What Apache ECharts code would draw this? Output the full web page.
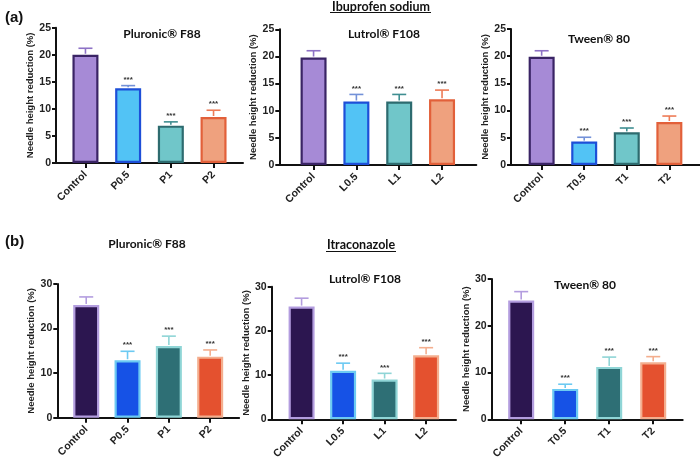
<!DOCTYPE html>
<html><head><meta charset="utf-8">
<script src="https://cdn.jsdelivr.net/npm/echarts@6/dist/echarts.min.js"></script>
<style>html,body{margin:0;padding:0;background:#fff}#c{width:700px;height:463px}</style>
</head><body><div id="c"></div><script>
// ---- data ----
const catsPluronic = ['Control', 'P0.5', 'P1', 'P2'];
const catsLutrol = ['Control', 'L0.5', 'L1', 'L2'];
const catsTween = ['Control', 'T0.5', 'T1', 'T2'];

const ibuPluronicMean = [20.0, 13.8, 6.9, 8.5];
const ibuPluronicSD = [1.2, 0.5, 0.7, 1.25];
const ibuLutrolMean = [19.8, 11.7, 11.7, 12.1];
const ibuLutrolSD = [1.25, 1.3, 1.3, 1.7];
const ibuTweenMean = [19.9, 4.3, 6.0, 7.9];
const ibuTweenSD = [1.1, 0.8, 0.8, 1.1];

const itraPluronicMean = [25.3, 12.9, 16.1, 13.7];
const itraPluronicSD = [1.8, 2.0, 2.2, 1.5];
const itraLutrolMean = [25.5, 11.0, 9.0, 14.5];
const itraLutrolSD = [1.9, 1.7, 1.4, 1.7];
const itraTweenMean = [25.4, 6.5, 11.2, 12.2];
const itraTweenSD = [1.9, 1.0, 2.1, 1.2];

const significance = ['', '***', '***', '***'];
const yTicksA = [0, 25, 5];
const yTicksB = [0, 30, 10];
const yName = 'Needle height reduction (%)';

// ---- styles ----
const styleA = {
  fill: ['#a68ad6', '#52c3f5', '#70c6c9', '#efa17e'],
  border: ['#3a2465', '#1d4fd8', '#2d6b6f', '#e2603a'],
  err: ['#8e72c6', '#7391d8', '#3f8e91', '#ee7b56']
};
const styleB = {
  fill: ['#2c1650', '#1652e6', '#2e6f75', '#e4512f'],
  border: ['#b39ddf', '#6ccaf2', '#8fd5d6', '#f4ae8e'],
  err: ['#b39ddf', '#6ccaf2', '#8fd5d6', '#f4ae8e']
};

const panels = [
  {cats: catsPluronic, mean: ibuPluronicMean, sd: ibuPluronicSD, y: yTicksA, st: styleA, left: 56, width: 187, top: 27.7, height: 135.3, xmin: -0.69, xmax: 3.69},
  {cats: catsLutrol, mean: ibuLutrolMean, sd: ibuLutrolSD, y: yTicksA, st: styleA, left: 279.3, width: 197, top: 29.3, height: 135.7, xmin: -0.80, xmax: 3.80},
  {cats: catsTween, mean: ibuTweenMean, sd: ibuTweenSD, y: yTicksA, st: styleA, left: 511, width: 190.6, top: 29, height: 136, xmin: -0.72, xmax: 3.72},
  {cats: catsPluronic, mean: itraPluronicMean, sd: itraPluronicSD, y: yTicksB, st: styleB, left: 57.3, width: 181.8, top: 284, height: 133.7, xmin: -0.70, xmax: 3.70},
  {cats: catsLutrol, mean: itraLutrolMean, sd: itraLutrolSD, y: yTicksB, st: styleB, left: 271.7, width: 184.3, top: 286.7, height: 132.6, xmin: -0.72, xmax: 3.72},
  {cats: catsTween, mean: itraTweenMean, sd: itraTweenSD, y: yTicksB, st: styleB, left: 491.7, width: 191, top: 279, height: 140.3, xmin: -0.67, xmax: 3.67}
];

const AX = 'Liberation Sans, Arial, sans-serif';
const TT = 'Lato, Open Sans, sans-serif';

const grid = [], xAxis = [], yAxis = [], series = [];
panels.forEach((p, k) => {
  grid.push({left: p.left, top: p.top, width: p.width, height: p.height, containLabel: false});
  const idx = p.cats.map((c, i) => i);
  xAxis.push({
    type: 'value', gridIndex: k, min: p.xmin, max: p.xmax,
    axisLine: {show: true, onZero: false, lineStyle: {color: '#111', width: 2}},
    axisTick: {show: true, length: 5, lineStyle: {color: '#111', width: 2}, customValues: idx},
    axisLabel: {customValues: idx, rotate: 45, margin: 10, color: '#222', fontFamily: AX, fontWeight: 'bold', fontSize: 10.5,
      formatter: v => p.cats[Math.round(v)]},
    splitLine: {show: false}
  });
  yAxis.push({
    type: 'value', gridIndex: k, min: p.y[0], max: p.y[1], interval: p.y[2],
    name: yName, nameLocation: 'middle', nameRotate: 90, nameGap: 19,
    nameTextStyle: {fontFamily: AX, fontWeight: 'bold', fontSize: 9.5, color: '#222'},
    axisLine: {show: true, onZero: false, lineStyle: {color: '#111', width: 2}},
    axisTick: {show: true, length: 4, lineStyle: {color: '#111', width: 2}},
    axisLabel: {color: '#222', fontFamily: AX, fontWeight: 'bold', fontSize: 10.5, margin: 5},
    splitLine: {show: false}
  });
  series.push({
    type: 'bar', xAxisIndex: k, yAxisIndex: k, barWidth: 26,
    data: p.mean.map((m, i) => ({value: [i, m], itemStyle: {color: p.st.fill[i], borderColor: p.st.border[i], borderWidth: 2.2}})),
    z: 2
  });
  series.push({
    type: 'custom', xAxisIndex: k, yAxisIndex: k, z: 3,
    encode: {x: 0, y: [1, 2]},
    data: p.mean.map((m, i) => [i, m, m + p.sd[i]]),
    renderItem: (params, api) => {
      const i = params.dataIndex;
      const a = api.coord([api.value(0), api.value(1)]);
      const b = api.coord([api.value(0), api.value(2)]);
      const col = p.st.err[i];
      const children = [
        {type: 'line', shape: {x1: a[0], y1: a[1] - 1, x2: b[0], y2: b[1]}, style: {stroke: col, lineWidth: 1.6}},
        {type: 'line', shape: {x1: b[0] - 7, y1: b[1], x2: b[0] + 7, y2: b[1]}, style: {stroke: col, lineWidth: 1.6}}
      ];
      if (significance[i]) {
        children.push({type: 'text', x: b[0], y: b[1] - 2, style: {text: significance[i], fill: '#333', font: 'bold 8px ' + AX, align: 'center', verticalAlign: 'bottom'}});
      }
      return {type: 'group', children};
    }
  });
});

const title = [
  {text: '(a)', left: 5, top: 10, textStyle: {fontFamily: AX, fontWeight: 'bold', fontSize: 15, color: '#111'}},
  {text: '(b)', left: 5, top: 234, textStyle: {fontFamily: AX, fontWeight: 'bold', fontSize: 15, color: '#111'}},
  {text: 'Ibuprofen sodium', left: 381, top: 0, textAlign: 'center', textStyle: {fontFamily: TT, fontWeight: 'bold', fontSize: 12.5, color: '#111'}},
  {text: 'Itraconazole', left: 361, top: 238, textAlign: 'center', textStyle: {fontFamily: TT, fontWeight: 'bold', fontSize: 12.5, color: '#111'}},
  {text: 'Pluronic® F88', left: 162, top: 28, textAlign: 'center', textStyle: {fontFamily: TT, fontWeight: 'bold', fontSize: 12, color: '#111'}},
  {text: 'Lutrol® F108', left: 384, top: 28, textAlign: 'center', textStyle: {fontFamily: TT, fontWeight: 'bold', fontSize: 12, color: '#111'}},
  {text: 'Tween® 80', left: 599, top: 33, textAlign: 'center', textStyle: {fontFamily: TT, fontWeight: 'bold', fontSize: 12, color: '#111'}},
  {text: 'Pluronic® F88', left: 147, top: 238, textAlign: 'center', textStyle: {fontFamily: TT, fontWeight: 'bold', fontSize: 12, color: '#111'}},
  {text: 'Lutrol® F108', left: 365, top: 273, textAlign: 'center', textStyle: {fontFamily: TT, fontWeight: 'bold', fontSize: 12, color: '#111'}},
  {text: 'Tween® 80', left: 585, top: 279, textAlign: 'center', textStyle: {fontFamily: TT, fontWeight: 'bold', fontSize: 12, color: '#111'}}
].map(t => Object.assign({padding: 0}, t));

const graphic = [
  {type: 'line', shape: {x1: 330, y1: 12.5, x2: 431, y2: 12.5}, style: {stroke: '#111', lineWidth: 1.2}},
  {type: 'line', shape: {x1: 326, y1: 251.5, x2: 396, y2: 251.5}, style: {stroke: '#111', lineWidth: 1.2}}
];

const chart = echarts.init(document.getElementById('c'), null, {renderer: 'canvas'});
chart.setOption({backgroundColor: '#fff', animation: false, title, grid, xAxis, yAxis, series, graphic});
</script></body></html>
